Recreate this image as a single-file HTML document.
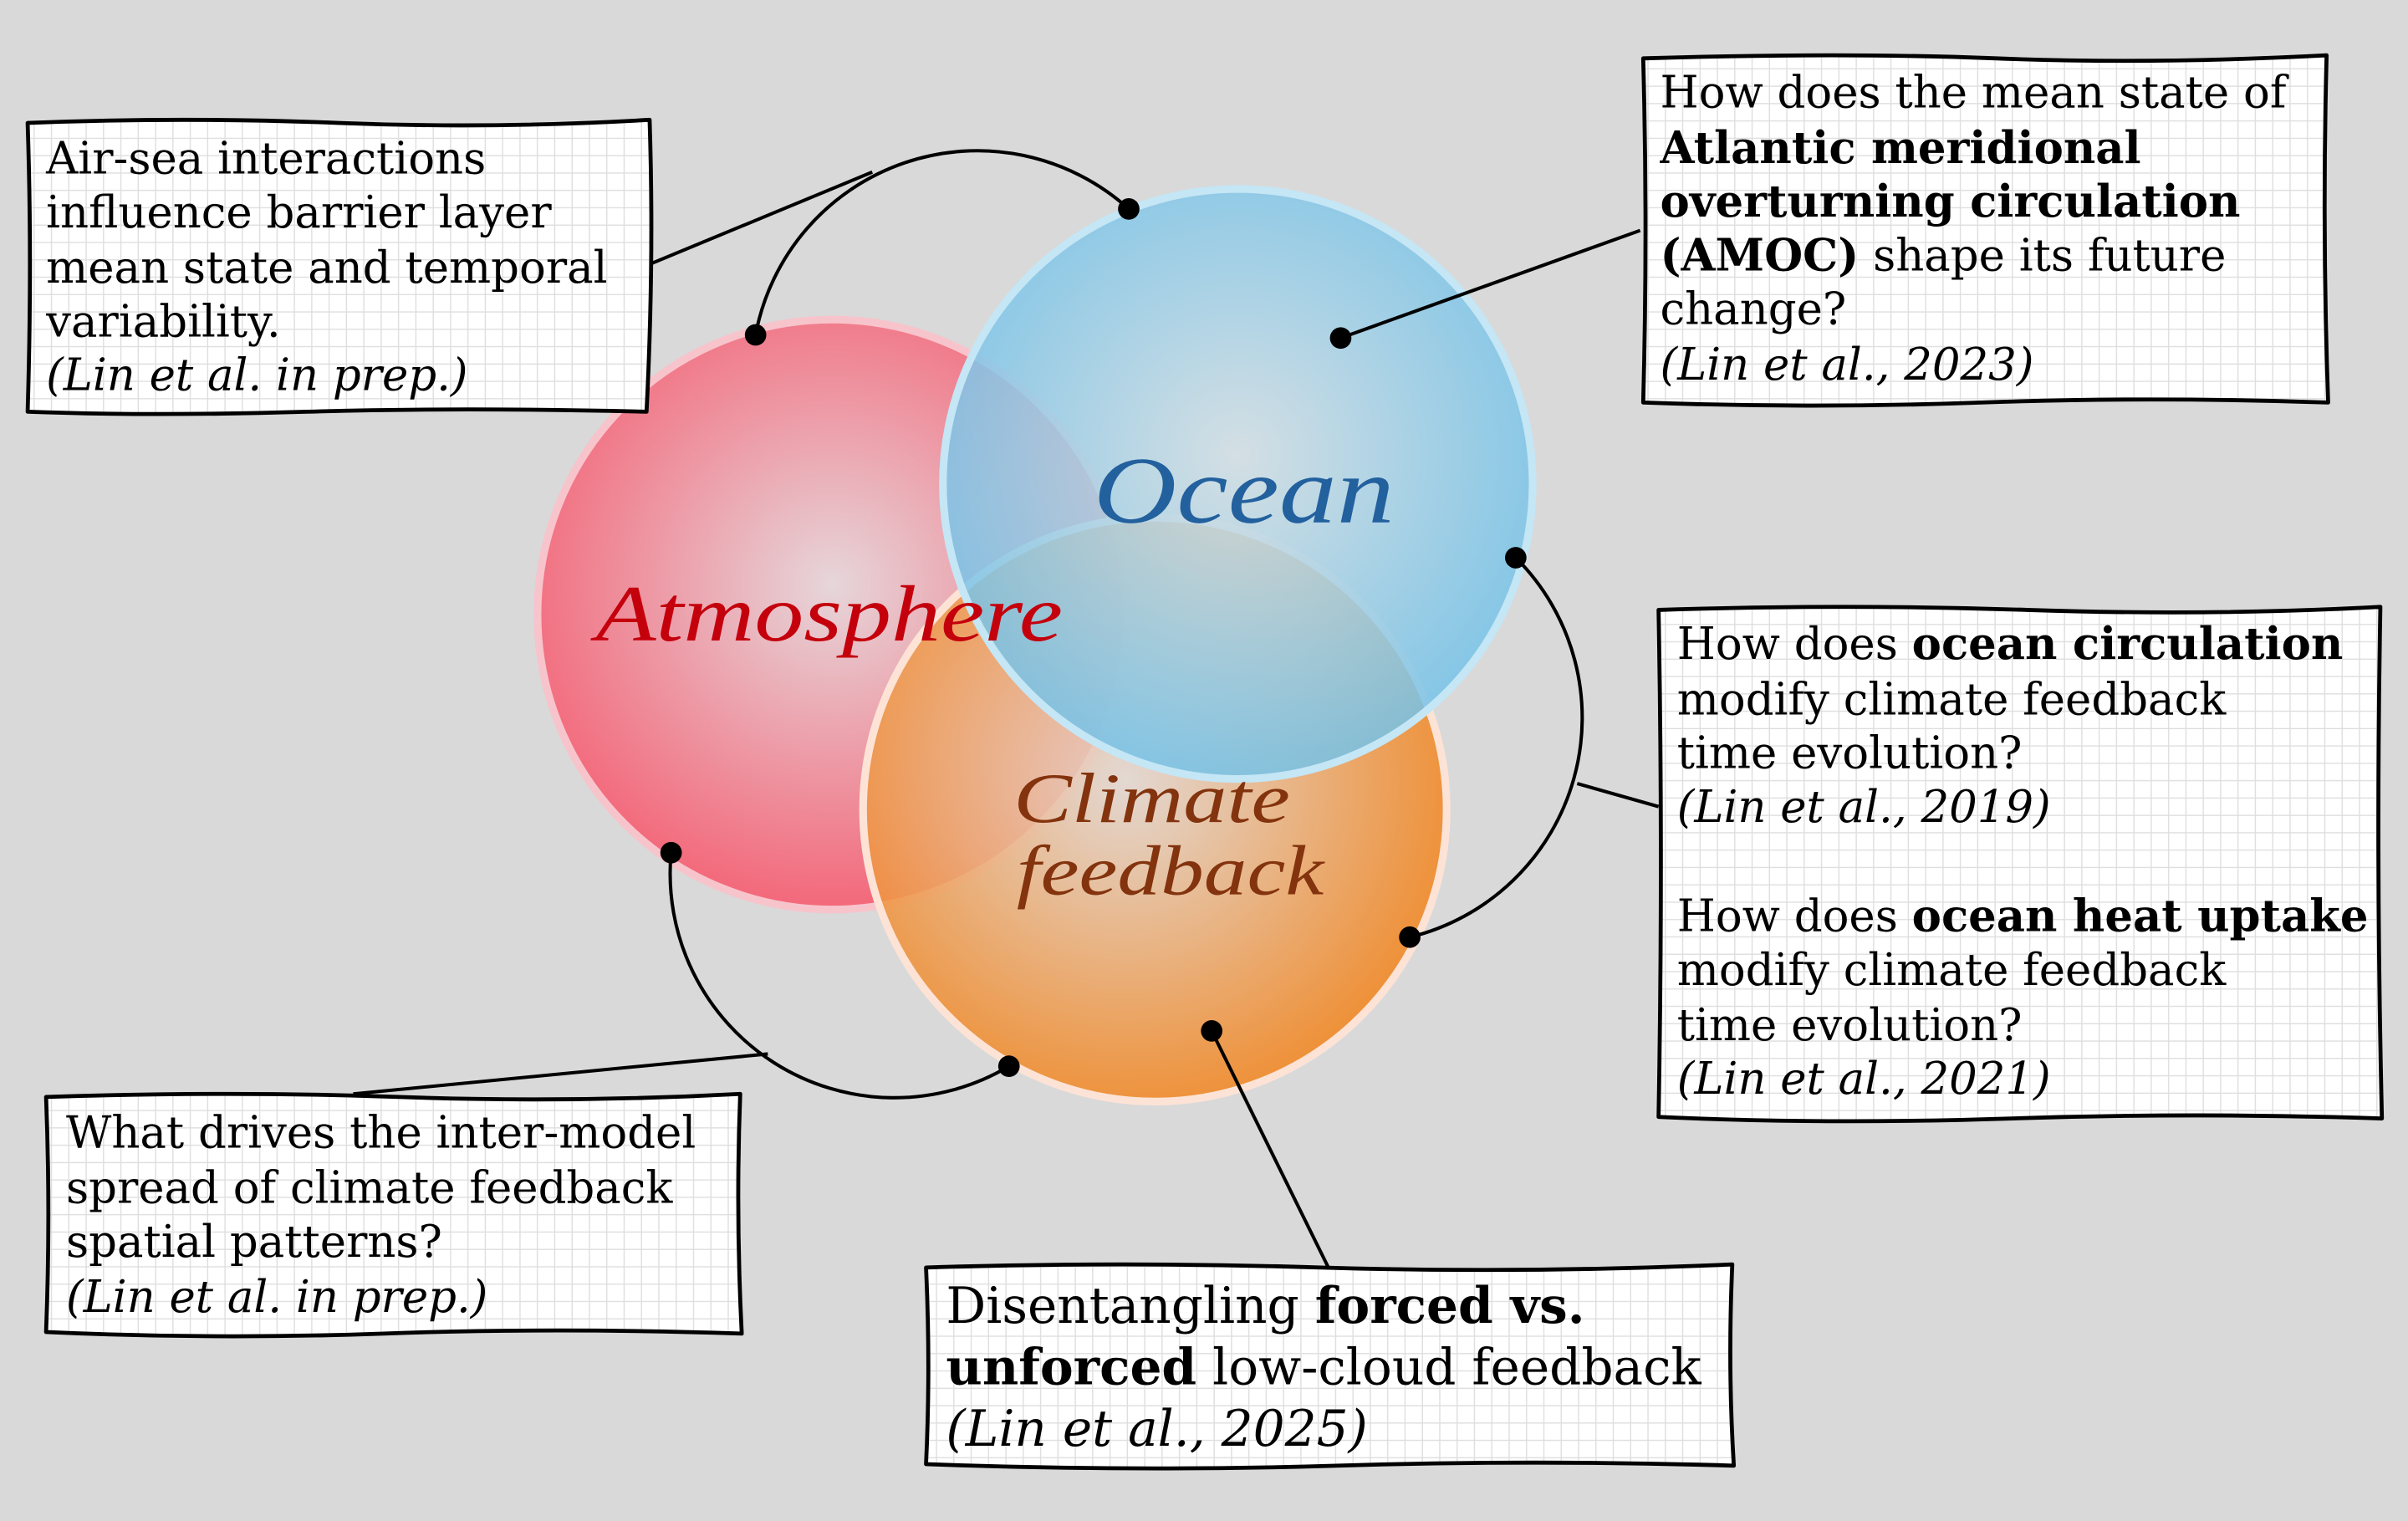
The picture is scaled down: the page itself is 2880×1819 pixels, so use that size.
<!DOCTYPE html>
<html><head><meta charset="utf-8"><style>
html,body{margin:0;padding:0;background:#d9d9d9;}
svg{display:block;}
.t{font-family:"DejaVu Serif","Liberation Serif",serif;font-size:28.8px;fill:#000;}
.b{font-weight:bold;}
.i{font-style:italic;}
.lbl{font-family:"Liberation Serif","DejaVu Serif",serif;font-style:italic;}
</style></head><body>
<svg width="2880" height="1819" viewBox="0 0 1568 990" preserveAspectRatio="none" xmlns="http://www.w3.org/2000/svg">
<defs>
<pattern id="grid" width="11.3" height="11.3" patternUnits="userSpaceOnUse">
<rect width="11.3" height="11.3" fill="#fff"/>
<path d="M11.3 0V11.3M0 11.3H11.3" stroke="#dedede" stroke-width="1.5"/>
</pattern>
<radialGradient id="gA" cx="0.5" cy="0.45" r="0.55"><stop offset="0" stop-color="#e6d6da"/><stop offset="1" stop-color="#f3687a"/></radialGradient>
<radialGradient id="gO" cx="0.5" cy="0.45" r="0.55"><stop offset="0" stop-color="#d3e0e6"/><stop offset="1" stop-color="#74c2e8"/></radialGradient>
<radialGradient id="gC" cx="0.45" cy="0.45" r="0.6"><stop offset="0" stop-color="#e4d8d2"/><stop offset="1" stop-color="#f28218"/></radialGradient>
</defs>
<rect width="1568" height="990" fill="#d9d9d9"/>

<circle cx="542" cy="400" r="192" fill="url(#gA)" stroke="#f7c4cc" stroke-width="5"/>
<circle cx="752" cy="527" r="190" fill="url(#gC)" fill-opacity="0.88" stroke="#fde3d6" stroke-width="5"/>
<circle cx="806" cy="315" r="192" fill="url(#gO)" fill-opacity="0.85" stroke="#c4e6f5" stroke-width="5"/>

<text class="lbl" x="712" y="340" font-size="62" fill="#22609e" textLength="196" lengthAdjust="spacingAndGlyphs">Ocean</text>
<text class="lbl" x="388" y="417" font-size="52" fill="#c4000c" textLength="304" lengthAdjust="spacingAndGlyphs">Atmosphere</text>
<text class="lbl" font-size="46" fill="#83330d"><tspan x="660" y="535" textLength="180" lengthAdjust="spacingAndGlyphs">Climate</tspan><tspan x="662" y="582" textLength="200" lengthAdjust="spacingAndGlyphs">feedback</tspan></text>

<g fill="none" stroke="#000" stroke-width="2.2">
<path d="M423 172 L568 112"/>
<path d="M492 218 A147 147 0 0 1 735 136"/>
<path d="M873 220 L1068 150"/>
<path d="M987 363 A147 147 0 0 1 918 610"/>
<path d="M1027 510 L1080 525"/>
<path d="M437 555 A146 146 0 0 0 657 694"/>
<path d="M500 686 L230 712"/>
<path d="M789 671 L865 825"/>
</g>
<g fill="#000">
<circle cx="492" cy="218" r="7"/>
<circle cx="735" cy="136" r="7"/>
<circle cx="873" cy="220" r="7"/>
<circle cx="987" cy="363" r="7"/>
<circle cx="918" cy="610" r="7"/>
<circle cx="437" cy="555" r="7"/>
<circle cx="657" cy="694" r="7"/>
<circle cx="789" cy="671" r="7"/>
</g>

<g fill="url(#grid)" stroke="#000" stroke-width="2.6" stroke-linejoin="round">
<path d="M18 80 Q120 76 220 80 T423 78 Q426 170 421 268 Q300 265 200 268 T18 268 Q21 170 18 80Z"/>
<path d="M1070 38 Q1200 34 1300 38 T1515 36 Q1512 150 1516 262 Q1400 258 1290 262 T1070 262 Q1073 150 1070 38Z"/>
<path d="M1080 397 Q1200 393 1320 397 T1550 395 Q1547 560 1551 728 Q1430 724 1310 728 T1080 727 Q1083 560 1080 397Z"/>
<path d="M30 714 Q150 710 260 714 T482 712 Q479 790 483 868 Q360 864 250 868 T30 867 Q33 790 30 714Z"/>
<path d="M603 825 Q730 821 860 825 T1128 823 Q1125 890 1129 954 Q1000 950 870 954 T603 953 Q606 890 603 825Z"/>
</g>

<text class="t">
<tspan x="30" y="113">Air-sea interactions</tspan>
<tspan x="30" y="148">influence barrier layer</tspan>
<tspan x="30" y="184">mean state and temporal</tspan>
<tspan x="30" y="219">variability.</tspan>
<tspan x="30" y="254" class="i">(Lin et al. in prep.)</tspan>
</text>
<text class="t">
<tspan x="1081" y="70">How does the mean state of</tspan>
<tspan x="1081" y="106" class="b">Atlantic meridional</tspan>
<tspan x="1081" y="141" class="b">overturning circulation</tspan>
<tspan x="1081" y="176"><tspan class="b">(AMOC)</tspan> shape its future</tspan>
<tspan x="1081" y="211">change?</tspan>
<tspan x="1081" y="247" class="i">(Lin et al., 2023)</tspan>
</text>
<text class="t">
<tspan x="1092" y="429">How does <tspan class="b">ocean circulation</tspan></tspan>
<tspan x="1092" y="465">modify climate feedback</tspan>
<tspan x="1092" y="500">time evolution?</tspan>
<tspan x="1092" y="535" class="i">(Lin et al., 2019)</tspan>
<tspan x="1092" y="606">How does <tspan class="b">ocean heat uptake</tspan></tspan>
<tspan x="1092" y="641">modify climate feedback</tspan>
<tspan x="1092" y="677">time evolution?</tspan>
<tspan x="1092" y="712" class="i">(Lin et al., 2021)</tspan>
</text>
<text class="t">
<tspan x="43" y="747">What drives the inter-model</tspan>
<tspan x="43" y="783">spread of climate feedback</tspan>
<tspan x="43" y="818">spatial patterns?</tspan>
<tspan x="43" y="854" class="i">(Lin et al. in prep.)</tspan>
</text>
<text class="t" style="font-size:32.5px">
<tspan x="616" y="861">Disentangling <tspan class="b">forced vs.</tspan></tspan>
<tspan x="616" y="901"><tspan class="b">unforced</tspan> low-cloud feedback</tspan>
<tspan x="616" y="941" class="i">(Lin et al., 2025)</tspan>
</text>
</svg>
</body></html>
